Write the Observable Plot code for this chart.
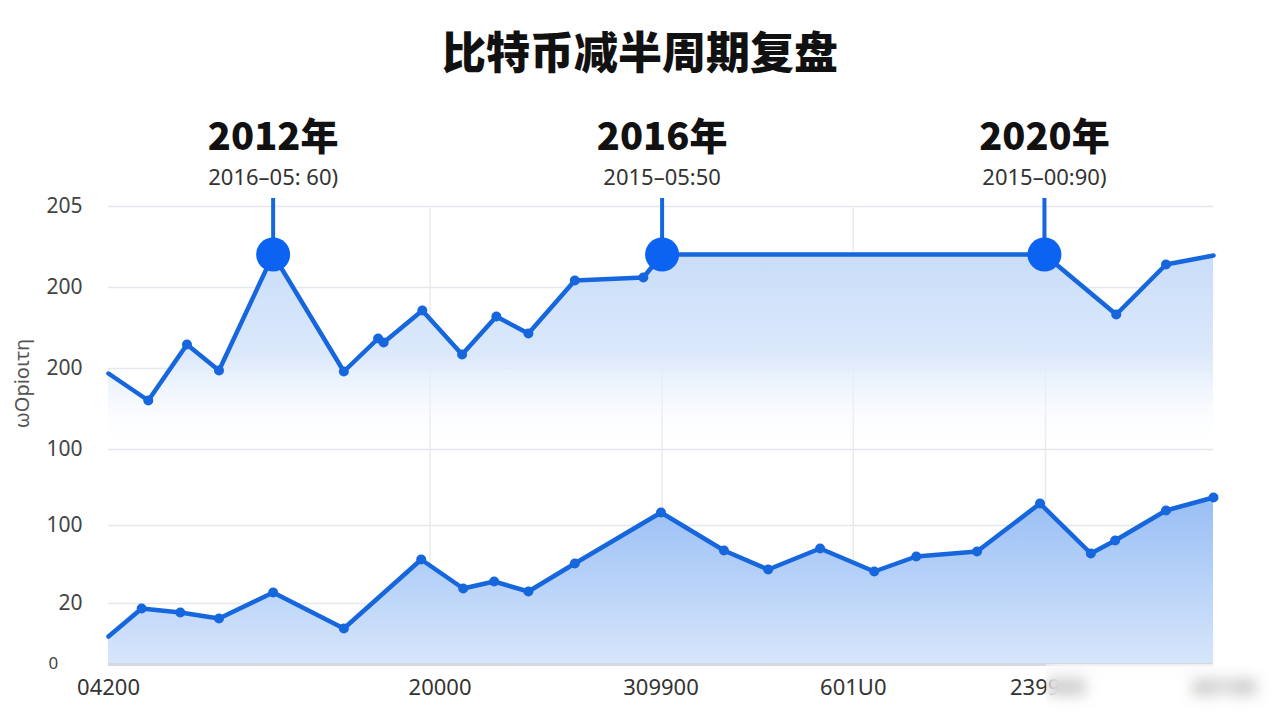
<!DOCTYPE html>
<html><head><meta charset="utf-8">
<script src="https://cdn.jsdelivr.net/npm/d3@7"></script>
<script src="https://cdn.jsdelivr.net/npm/@observablehq/plot@0.6"></script>
<style>
body{margin:0;background:#fff;width:1280px;height:720px;overflow:hidden;position:relative;font-family:"Noto Sans","Noto Sans CJK SC",sans-serif;}
#title{position:absolute;left:0;top:0;width:1280px;height:100px;display:flex;align-items:center;justify-content:center;font-family:"Noto Sans CJK SC";font-weight:900;font-size:44px;color:#111;}
#chart{position:absolute;left:0;top:90px;}
#blur{position:absolute;left:1046px;top:664px;width:234px;height:56px;backdrop-filter:blur(7px);-webkit-backdrop-filter:blur(7px);background:rgba(255,255,255,0.3);}
</style></head>
<body>
<div id="title">比特币减半周期复盘</div>
<div id="chart"></div>
<div id="blur"></div>
<script>
// upper series
const upperX = [0, 3.6, 7.1, 10.0, 14.9, 21.3, 24.4, 24.9, 28.4, 32.0, 35.1, 38.0, 42.2, 48.4, 50.1, 84.7, 91.2, 95.7, 100];
const upperY = [291, 264, 320, 294, 410, 293, 326, 322, 354, 310, 348, 331, 384, 387, 410, 410, 350, 400, 409];
// lower series
const lowerX = [0, 3.0, 6.5, 10.0, 14.9, 21.3, 28.3, 32.1, 34.9, 38.0, 42.2, 50.0, 55.7, 59.7, 64.4, 69.3, 73.1, 78.6, 84.3, 88.9, 91.1, 95.7, 100];
const lowerY = [28, 56, 52, 46, 72, 36, 105, 76, 83, 73, 101, 152, 114, 95, 116, 93, 108, 113, 161, 111, 124, 154, 167];
// halving events
const halvingX = [14.9, 50.1, 84.7];
const halvingY = [410, 410, 410];
const halvingTitles = ["2012年", "2016年", "2020年"];
const halvingSubs = ["2016–05: 60)", "2015–05:50", "2015–00:90)"];
const stemTop = 466;
// axes
const yTickPos = [61, 139, 215, 296, 377, 458];
const yTickLabels = ["20", "100", "100", "200", "200", "205"];
const xTickPos = [0, 30, 50, 67.4, 85, 101];
const xTickLabels = ["04200", "20000", "309900", "601U0", "239900", "60100"];
const xGrid = [29.1, 50.1, 67.4, 84.8];
const yLabel = "ωOpioιτη";

const upper = upperX.map((x, i) => ({x, y: upperY[i]}));
const lower = lowerX.map((x, i) => ({x, y: lowerY[i]}));
const halvings = halvingX.map((x, i) => ({x, y: halvingY[i], title: halvingTitles[i], sub: halvingSubs[i]}));
const upperDots = upper.filter(d => !halvingX.includes(d.x) && d.x !== 0 && d.x !== 100);
const lowerDots = lower.filter(d => d.x !== 0);

const blue = "#1666dd";
const markerBlue = "#0c63f2";

const defs = () => {
  const d = d3.create("svg:defs");
  const g1 = d.append("linearGradient").attr("id", "gUp").attr("x1", 0).attr("x2", 0).attr("y1", 0).attr("y2", 1);
  g1.append("stop").attr("offset", "0%").attr("stop-color", "#c9ddf9").attr("stop-opacity", 1);
  g1.append("stop").attr("offset", "25%").attr("stop-color", "#dce9fb").attr("stop-opacity", 1);
  g1.append("stop").attr("offset", "48%").attr("stop-color", "#ffffff").attr("stop-opacity", 0);
  g1.append("stop").attr("offset", "100%").attr("stop-color", "#ffffff").attr("stop-opacity", 0);
  const g2 = d.append("linearGradient").attr("id", "gLow").attr("x1", 0).attr("x2", 0).attr("y1", 0).attr("y2", 1);
  g2.append("stop").attr("offset", "0%").attr("stop-color", "#98bef5");
  g2.append("stop").attr("offset", "100%").attr("stop-color", "#d7e6fb");
  return d.node();
};

const chart = Plot.plot({
  width: 1280,
  height: 630,
  marginLeft: 108,
  marginRight: 67,
  marginTop: 116,
  marginBottom: 56,
  style: {fontFamily: "'Noto Sans', sans-serif", background: "transparent", overflow: "visible"},
  x: {domain: [0, 100]},
  y: {domain: [0, 458]},
  marks: [
    defs,
    Plot.gridY(yTickPos, {stroke: "#e4e7eb", strokeOpacity: 1, strokeWidth: 1.5}),
    Plot.gridX(xGrid, {stroke: "#e8eaee", strokeOpacity: 1, strokeWidth: 1.5}),
    Plot.areaY(upper, {x: "x", y: "y", fill: "url(#gUp)"}),
    Plot.areaY(lower, {x: "x", y: "y", fill: "url(#gLow)"}),
    Plot.ruleY([0], {stroke: "#d5d9df", strokeWidth: 3}),
    Plot.line(upper, {x: "x", y: "y", stroke: blue, strokeWidth: 4.5}),
    Plot.line(lower, {x: "x", y: "y", stroke: blue, strokeWidth: 4.5}),
    Plot.dot(upperDots, {x: "x", y: "y", r: 5, fill: blue}),
    Plot.dot(lowerDots, {x: "x", y: "y", r: 5, fill: blue}),
    Plot.ruleX(halvings, {x: "x", y1: "y", y2: () => stemTop, stroke: blue, strokeWidth: 4}),
    Plot.dot(halvings, {x: "x", y: "y", r: 17, fill: markerBlue}),
    Plot.text(halvings, {x: "x", text: "title", frameAnchor: "top", lineAnchor: "middle", dy: -69, fontSize: 38, fontWeight: 900, fontFamily: "'Noto Sans CJK SC'", fill: "#111"}),
    Plot.text(halvings, {x: "x", text: "sub", frameAnchor: "top", lineAnchor: "middle", dy: -29, fontSize: 22, fill: "#333"}),
    Plot.axisY({ticks: yTickPos, tickFormat: d => yTickLabels[yTickPos.indexOf(d)], tickSize: 0, tickPadding: 26, fontSize: 21, color: "#444", label: null}),
    Plot.axisX({ticks: xTickPos, tickFormat: d => xTickLabels[xTickPos.indexOf(d)], tickSize: 0, tickPadding: 15, fontSize: 22, color: "#333", label: null}),
    Plot.text(["0"], {frameAnchor: "bottom-left", dx: -60, dy: 4, fontSize: 17, fill: "#444"}),
    Plot.text([yLabel], {frameAnchor: "left", textAnchor: "middle", dx: -86, dy: -52, rotate: -90, fontSize: 20, fill: "#555"})
  ]
});
document.getElementById("chart").appendChild(chart);
</script>
</body></html>
